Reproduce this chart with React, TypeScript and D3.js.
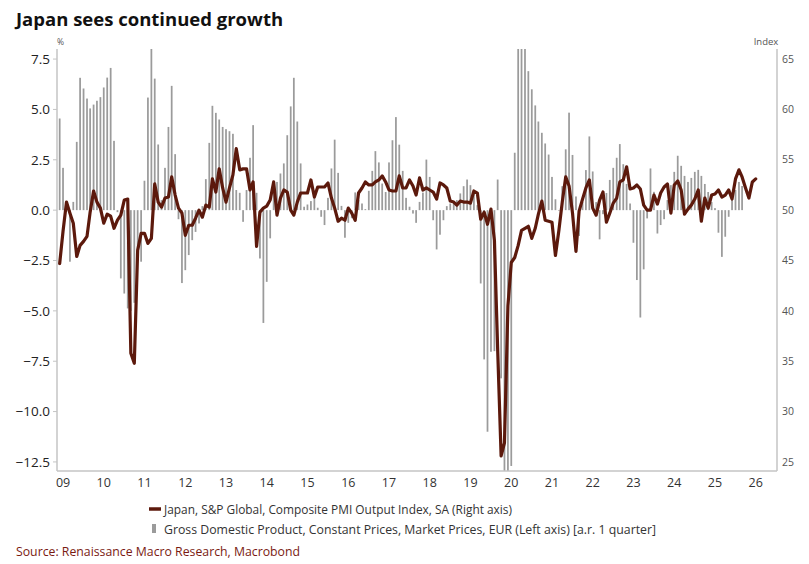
import React from "react";
import * as d3 from "d3";

// ---------- DATA ----------
// Monthly series, first observation June 2009
const START_YEAR = 2009;
const START_MONTH = 5; // June (0-based)

// Japan, S&P Global, Composite PMI Output Index, SA (right axis)
const pmi: number[] = [
  44.7, 47.9, 50.8, 49.7, 48.7, 45.4, 46.5, 46.9, 47.4, 49.8,
  51.9, 50.8, 50.2, 48.7, 49.6, 49.4, 48.2, 49.0, 49.5, 51.0,
  51.1, 35.8, 34.8, 46.0, 47.7, 47.7, 46.7, 47.2, 52.6, 50.8,
  50.3, 51.2, 51.3, 53.3, 51.5, 50.2, 49.7, 47.5, 48.5, 48.5,
  49.2, 50.0, 49.3, 50.5, 50.3, 53.1, 51.8, 54.1, 52.2, 50.8,
  52.2, 53.5, 56.1, 54.0, 54.1, 54.1, 52.0, 52.8, 46.4, 49.8,
  50.2, 50.4, 51.0, 52.8, 49.5, 51.2, 52.0, 51.8, 50.0, 49.5,
  50.8, 51.7, 51.7, 51.7, 53.0, 51.3, 52.3, 52.3, 52.3, 52.7,
  51.2, 50.2, 48.9, 49.2, 49.0, 50.2, 49.7, 49.0, 51.7, 52.2,
  52.8, 52.5, 52.5, 52.8, 53.0, 53.4, 52.8, 52.0, 51.9, 51.9,
  53.4, 52.2, 52.2, 53.0, 52.4, 51.5, 53.2, 52.0, 52.2, 52.0,
  51.8, 51.1, 52.7, 52.5, 52.2, 50.9, 50.8, 50.5, 50.9, 50.8,
  50.8, 50.7, 51.9, 51.7, 49.1, 49.8, 48.6, 50.1, 47.0, 36.2,
  25.6, 26.9, 40.5, 44.8, 45.3, 46.5, 48.0, 48.2, 48.4, 47.2,
  48.2, 49.6, 50.9, 49.0, 48.9, 48.8, 45.5, 48.0, 50.8, 53.3,
  52.4, 49.7, 45.9, 49.9, 51.1, 52.2, 53.0, 50.2, 49.5, 51.0,
  51.8, 48.8, 49.7, 50.7, 51.2, 52.8, 53.0, 54.3, 52.1, 52.2,
  52.5, 52.1, 50.5, 50.0, 50.0, 51.5, 50.6, 51.7, 52.3, 52.6,
  49.7, 52.5, 52.9, 52.0, 49.6, 50.1, 50.5, 51.1, 52.0, 48.9,
  51.2, 50.2, 51.5, 51.6, 52.0, 51.3, 51.5, 52.0, 51.1, 53.1,
  54.0, 53.3, 52.2, 51.2, 52.8, 53.1,
];

// Gross Domestic Product, Constant Prices, Market Prices, EUR (left axis) [a.r. 1 quarter], %
const gdp: number[] = [
  4.55, 2.10, 0.3, -2.56, 0.41, 3.39, 6.57, 6.04, 5.54, 5.05,
  5.24, 5.43, 5.61, 6.09, 6.58, 7.06, 3.44, -0.1, -3.39, -4.14,
  -4.88, -5.0, -4.6, -2.5, -2.56, 1.46, 5.59, 8.2, 6.53, 3.26,
  0.5, 2.10, 4.13, 6.17, 2.78, -0.45, -3.62, -2.98, -2.23, -1.49,
  -1.08, -0.66, 0.2, 1.54, 3.34, 5.18, 4.83, 4.50, 4.13, 4.02,
  3.92, 3.79, 1.0, 0.86, -0.58, 1.0, 2.6, 4.22, 0.86, -2.4,
  -5.6, -3.56, -1.4, 1.3, 1.4, 1.82, 2.32, 3.72, 5.15, 6.57,
  4.4, 2.32, 0.17, 0.28, 0.45, 0.66, 0.12, -0.33, -0.74, 0.61,
  2.07, 3.5, 1.85, 0.21, -1.37, -0.63, -0.4, 0.88, 0.5, 0.33,
  0.05, 0.96, 1.95, 2.93, 2.37, 1.32, 0.9, 2.37, 3.47, 4.62,
  3.25, 1.95, 0.61, 0.17, -0.17, -0.63, 0.41, 0.87, 2.51, 1.65,
  -0.5, -1.95, -1.22, -0.5, 0.2, 0.33, 0.41, 0.5, 0.83, 1.19,
  1.52, 1.24, 0.83, 0.25, -3.64, -7.41, -11.0, -7.03, -7.0, 1.52,
  -8.35, -16.0, -18.0, -12.7, 2.85, 10.0, 12.0, 9.0, 6.9, 6.0,
  5.2, 4.4, 3.84, 3.31, 2.76, 1.65, 0.54, 0.0, 1.19, 3.02,
  4.84, 2.74, 0.68, -1.28, 0.4, 1.99, 3.66, 1.92, 0.4, -1.45,
  -0.2, 0.85, 1.5, 2.1, 2.6, 3.28, 2.28, 1.3, 0.33, -1.62,
  -3.47, -5.33, -2.94, -0.41, 2.07, 0.91, -1.16, -0.74, -0.45, 0.5,
  1.24, 1.9, 2.7, 2.2, 1.7, 1.4, 1.6, 1.9, 2.0, 1.7,
  1.3, 0.9, 0.4, 0.1, -1.12, -2.32, -1.32, -0.33, 0.58, 1.0,
  1.4, 1.2,
];

const leftTicks: number[] = [7.5, 5.0, 2.5, 0.0, -2.5, -5.0, -7.5, -10.0, -12.5];
const rightTicks: number[] = [65, 60, 55, 50, 45, 40, 35, 30, 25];
const yearLabels: number[] = d3.range(2009, 2027);

const TITLE = "Japan sees continued growth";
const LEGEND_PMI = "Japan, S&P Global, Composite PMI Output Index, SA (Right axis)";
const LEGEND_GDP =
  "Gross Domestic Product, Constant Prices, Market Prices, EUR (Left axis) [a.r. 1 quarter]";
const SOURCE = "Source: Renaissance Macro Research, Macrobond";

// ---------- LAYOUT ----------
const W = 809;
const H = 564;
const PL = 57;
const PR = 777;
const PT = 49;
const PB = 471;

const LINE_COLOR = "#5c190c";
const BAR_COLOR = "#9b9b9b";
const AXIS_COLOR = "#c4c4c4";
const FONT = "'Open Sans', 'Noto Sans', sans-serif";

const monthDate = (i: number) => new Date(START_YEAR, START_MONTH + i, 1);

export default function App() {
  React.useEffect(() => {
    document.body.style.margin = "0";
  }, []);

  const x = d3
    .scaleTime()
    .domain([new Date(2009, 4, 8), new Date(2027, 0, 8)])
    .range([PL, PR]);
  const yL = d3.scaleLinear().domain([-12.95, 8.0]).range([PB, PT]);
  const yR = d3.scaleLinear().domain([24.1, 66.0]).range([PB, PT]);

  const line = d3
    .line<number>()
    .x((_, i) => x(monthDate(i)))
    .y((d) => yR(d))
    .curve(d3.curveLinear);

  const barW = 1.75;
  const y0 = yL(0);

  return (
    <div style={{ position: "absolute", left: 0, top: 0 }}>
      <svg width={W} height={H} style={{ display: "block", background: "#fff" }}>
        <defs>
          <clipPath id="plotClip">
            <rect x={PL} y={PT} width={PR - PL} height={PB - PT} />
          </clipPath>
        </defs>

        {/* Title */}
        <text x={16} y={26} fontFamily={FONT} fontWeight={700} fontSize={18.5} fill="#111">
          {TITLE}
        </text>

        {/* Axis unit labels */}
        <text x={57} y={45} fontFamily={FONT} fontSize={8.5} fill="#555">
          %
        </text>
        <text x={766} y={45} fontFamily={FONT} fontSize={9.5} fill="#555" textAnchor="middle">
          Index
        </text>

        {/* Bars */}
        <g clipPath="url(#plotClip)">
          {gdp.map((v, i) => {
            const cx = x(monthDate(i));
            const yv = yL(v);
            return (
              <rect
                key={i}
                x={cx - barW / 2}
                y={Math.min(yv, y0)}
                width={barW}
                height={Math.max(0.6, Math.abs(yv - y0))}
                fill={BAR_COLOR}
              />
            );
          })}
        </g>

        {/* Line */}
        <g clipPath="url(#plotClip)">
          <path
            d={line(pmi) || ""}
            fill="none"
            stroke={LINE_COLOR}
            strokeWidth={3.2}
            strokeLinejoin="round"
            strokeLinecap="round"
          />
        </g>

        {/* Axes lines */}
        <line x1={PL} x2={PL} y1={PT} y2={PB} stroke={AXIS_COLOR} strokeWidth={1.5} />
        <line x1={PR} x2={PR} y1={PT} y2={PB} stroke={AXIS_COLOR} strokeWidth={1.5} />
        <line x1={PL} x2={PR} y1={PB} y2={PB} stroke={AXIS_COLOR} strokeWidth={1.5} />

        {/* Left ticks */}
        {leftTicks.map((t) => (
          <g key={"l" + t}>
            <line x1={PL - 4} x2={PL} y1={yL(t)} y2={yL(t)} stroke={AXIS_COLOR} strokeWidth={1} />
            <text
              x={PL - 7}
              y={yL(t)}
              dy="0.35em"
              textAnchor="end"
              fontFamily={FONT}
              fontSize={13.5}
              fill="#222"
            >
              {d3.format(".1f")(t)}
            </text>
          </g>
        ))}

        {/* Right ticks */}
        {rightTicks.map((t) => (
          <text
            key={"r" + t}
            x={PR + 5}
            y={yR(t)}
            dy="0.35em"
            fontFamily={FONT}
            fontSize={10.5}
            fill="#555"
          >
            {t}
          </text>
        ))}

        {/* X labels */}
        {yearLabels.map((yr) => (
          <text
            key={"x" + yr}
            x={x(new Date(yr, 6, 1))}
            y={487}
            textAnchor="middle"
            fontFamily={FONT}
            fontSize={12.5}
            fill="#333"
          >
            {String(yr % 100).padStart(2, "0")}
          </text>
        ))}

        {/* Legend */}
        <line x1={149} x2={161} y1={509} y2={509} stroke={LINE_COLOR} strokeWidth={3.5} />
        <text
          x={164}
          y={513.5}
          fontFamily={FONT}
          fontSize={12.5}
          fill="#333"
          textLength={348}
          lengthAdjust="spacingAndGlyphs"
        >
          {LEGEND_PMI}
        </text>
        <rect x={152} y={524} width={4} height={9} fill={BAR_COLOR} />
        <text
          x={164}
          y={533.5}
          fontFamily={FONT}
          fontSize={12.5}
          fill="#333"
          textLength={492}
          lengthAdjust="spacingAndGlyphs"
        >
          {LEGEND_GDP}
        </text>

        {/* Source */}
        <text
          x={16}
          y={556}
          fontFamily={FONT}
          fontSize={12.5}
          fill="#7a1a12"
          textLength={284}
          lengthAdjust="spacingAndGlyphs"
        >
          {SOURCE}
        </text>
      </svg>
    </div>
  );
}
